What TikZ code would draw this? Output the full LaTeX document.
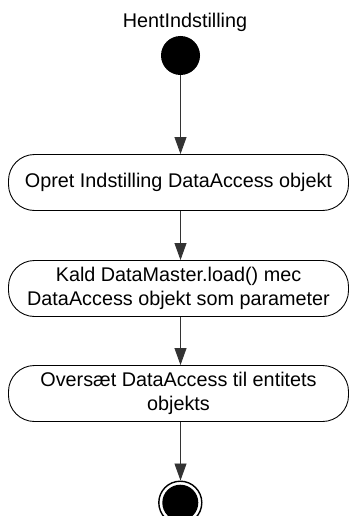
\documentclass[tikz,border=0pt]{standalone}
\usepackage{fontspec}
\setmainfont{Liberation Sans}
\usetikzlibrary{arrows.meta}
\begin{document}
\begin{tikzpicture}[x=1pt,y=-1pt,
  every node/.style={font=\fontsize{19.8}{24}\selectfont, inner sep=0pt},
  action/.style={draw=black, line width=0.9pt, rounded corners=26pt,
     minimum width=340pt, minimum height=56pt, align=center},
  arr/.style={draw=black!80, line width=0.8pt, -{Triangle[length=17pt,width=12pt]}},
  startnode/.style={circle, fill=black, minimum size=39pt},
]
\useasboundingbox (0,0) rectangle (349,516);
\node (title) at (185,22) {HentIndstilling};
\node[startnode] (start) at (180.5,55.5) {};
\node[action] (b1) at (178.5,182.5) {Opret Indstilling DataAccess objekt};
\node[action] (b2) at (178.5,288.5) {Kald DataMaster.load() mec\\DataAccess objekt som parameter};
\node[action] (b3) at (178.5,393.5) {Oversæt DataAccess til entitets\\objekts};
\node[circle, draw=black, line width=1.4pt, minimum size=43pt, fill=white] (end) at (180.3,502.7) {};
\node[circle, fill=black, minimum size=36pt] (endin) at (end.center) {};
\draw[arr] (start) -- (start |- b1.north);
\draw[arr] (b1.south -| start) -- (b2.north -| start);
\draw[arr] (b2.south -| start) -- (b3.north -| start);
\draw[arr] (b3.south -| start) -- (end.north -| start);
\end{tikzpicture}
\end{document}
